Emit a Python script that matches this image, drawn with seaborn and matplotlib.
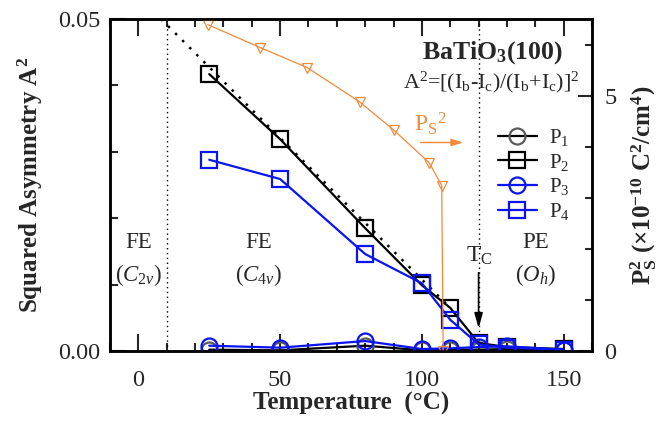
import matplotlib
matplotlib.use("Agg")
import matplotlib.pyplot as plt
import seaborn as sns
import numpy as np
import pandas as pd
from matplotlib.lines import Line2D
from matplotlib.ticker import MultipleLocator, FixedLocator

# ---------------- data ----------------
temps = [25, 50, 80, 100, 110, 120, 130, 150]
p1 = [0.0002, 0.0001, 0.0008, 0.0001, 0.0002, 0.0002, 0.0003, 0.0001]
p2 = [0.0417, 0.0319, 0.0185, 0.0099, 0.0065, 0.0012, 0.0006, 0.0003]
p3 = [0.0008, 0.0005, 0.0015, 0.0003, 0.0004, 0.0006, 0.0007, 0.0002]
p4 = [0.0288, 0.0259, 0.0146, 0.0102, 0.0047, 0.0010, 0.0005, 0.0002]

ps_temps = [24.5, 43, 59.5, 78, 90, 102.5, 107, 107.5]
ps2 = [6.39, 5.94, 5.55, 4.88, 4.33, 3.69, 3.24, 0.0]

fit_temps = [8, 110]
fit_a2 = [0.05, 0.0065]

phase_bounds = [10, 120]

# ---------------- style ----------------
sns.set_style("ticks")
plt.rcParams["font.family"] = ["Liberation Serif", "DejaVu Serif"]
plt.rcParams["mathtext.fontset"] = "custom"
plt.rcParams["mathtext.rm"] = "Liberation Serif"
plt.rcParams["mathtext.it"] = "Liberation Serif:italic"
plt.rcParams["mathtext.bf"] = "Liberation Serif:bold"

fig = plt.figure(figsize=(6.69, 4.24), dpi=100)
ax = fig.add_axes([110 / 669, 1 - 351 / 424, 482 / 669, 332 / 424])
ax2 = ax.twinx()

ORANGE = "#f28a3a"
BLUE = "#0a14f0"
GRAY = "#5a5a5a"
ms = 11.5
mew = 1.6
lw = 1.6

df = pd.DataFrame({"T": temps, "P1": p1, "P2": p2, "P3": p3, "P4": p4})

sns.lineplot(x=fit_temps, y=fit_a2, ax=ax, color="black", linestyle=(0, (1, 3)),
             lw=1.8, zorder=2)
sns.lineplot(data=df, x="T", y="P1", ax=ax, color="black", lw=lw, marker="o",
             markersize=ms, markerfacecolor="none", markeredgecolor=GRAY,
             markeredgewidth=mew, zorder=3)
sns.lineplot(data=df, x="T", y="P2", ax=ax, color="black", lw=lw, marker="s",
             markersize=ms, markerfacecolor="none", markeredgecolor="black",
             markeredgewidth=mew, zorder=3)
sns.lineplot(data=df, x="T", y="P3", ax=ax, color=BLUE, lw=lw, marker="o",
             markersize=ms, markerfacecolor="none", markeredgecolor=BLUE,
             markeredgewidth=mew, zorder=4)
sns.lineplot(data=df, x="T", y="P4", ax=ax, color=BLUE, lw=lw, marker="s",
             markersize=ms, markerfacecolor="none", markeredgecolor=BLUE,
             markeredgewidth=mew, zorder=4)

sns.lineplot(x=ps_temps, y=ps2, ax=ax2, color=ORANGE, lw=0.9, marker="v",
             markersize=7, markerfacecolor="none", markeredgecolor=ORANGE,
             markeredgewidth=0.9, sort=False)

for xb in phase_bounds:
    ax.axvline(xb, color="black", lw=1.0, linestyle=(0, (1, 2.5)), zorder=1)

# ---------------- axes ----------------
ax.set_xlim(-10, 160)
ax.set_ylim(0, 0.05)
ax2.set_ylim(0, 6.5)

ax.xaxis.set_major_locator(FixedLocator([0, 50, 100, 150]))
ax.xaxis.set_minor_locator(MultipleLocator(10))
ax.yaxis.set_major_locator(FixedLocator([0, 0.05]))
ax.yaxis.set_minor_locator(MultipleLocator(0.01))
ax.set_yticklabels(["0.00", "0.05"])
ax2.yaxis.set_major_locator(FixedLocator([0, 5]))
ax2.yaxis.set_minor_locator(MultipleLocator(1))

TL = 17.5
ax.tick_params(axis="x", which="both", direction="in", top=True, bottom=True,
               labelsize=TL, pad=14, width=1.5)
ax.tick_params(axis="x", which="major", length=12)
ax.tick_params(axis="x", which="minor", length=6)
ax.tick_params(axis="y", which="both", direction="in", left=True, right=False,
               labelsize=TL, pad=7, width=1.5)
ax.tick_params(axis="y", which="major", length=12)
ax.tick_params(axis="y", which="minor", length=6)
ax2.tick_params(axis="y", which="both", direction="in", right=True, left=False,
                labelsize=TL, pad=9, width=1.5)
ax2.tick_params(axis="y", which="major", length=10)
ax2.tick_params(axis="y", which="minor", length=5)

for a in (ax, ax2):
    for s in a.spines.values():
        s.set_linewidth(1.8)
        s.set_color("black")

ax.set_xlabel("Temperature  (°C)", fontsize=18, fontweight="bold", labelpad=0)
ax.set_ylabel("Squared Asymmetry A$^{\\mathbf{2}}$", fontsize=18, fontweight="bold",
              labelpad=9)
ax2.set_ylabel("P$_{\\mathbf{S}}^{\\mathbf{2}}$ (×10$^{\\mathbf{-10}}$ C$^{\\mathbf{2}}$/cm$^{\\mathbf{4}}$)",
               fontsize=18, fontweight="bold", labelpad=8)

# ---------------- annotations ----------------
fs = 16.5
ax.text(0, 0.0163, "FE", ha="center", va="center", fontsize=fs)
ax.text(0, 0.0114, "($\\mathit{C}_{\\mathit{2v}}$)", ha="center", va="center", fontsize=fs)
ax.text(42.5, 0.0163, "FE", ha="center", va="center", fontsize=fs)
ax.text(42.5, 0.0114, "($\\mathit{C}_{\\mathit{4v}}$)", ha="center", va="center", fontsize=fs)
ax.text(140, 0.0163, "PE", ha="center", va="center", fontsize=fs)
ax.text(140, 0.0114, "($\\mathit{O}_{\\mathit{h}}$)", ha="center", va="center", fontsize=fs)
ax.text(120.3, 0.0143, "T$_{\\mathrm{C}}$", ha="center", va="center", fontsize=17)
ax.annotate("", xy=(120, 0.0030), xytext=(120, 0.0122),
            arrowprops=dict(arrowstyle="-|>,head_length=0.9,head_width=0.25",
                            color="black", lw=1.2))

ax.text(149.8, 0.0449, "BaTiO$_{\\mathbf{3}}$(100)", ha="right", va="center",
        fontsize=18.5, fontweight="bold")
ax.text(155.5, 0.0404, "A$^2$=[(I$_\\mathrm{b}$-I$_\\mathrm{c}$)/(I$_\\mathrm{b}$+I$_\\mathrm{c}$)]$^2$",
        ha="right", va="center", fontsize=15.8)

ax.text(103, 0.0342, "P$_\\mathrm{S}$$^2$", ha="center", va="center", fontsize=17,
        color=ORANGE)
ax.annotate("", xy=(115.5, 0.0314), xytext=(98.5, 0.0314),
            arrowprops=dict(arrowstyle="-|>,head_length=0.7,head_width=0.22",
                            color=ORANGE, lw=1.0))

# ---------------- legend ----------------
handles = [
    Line2D([], [], color="black", lw=lw, marker="o", markersize=ms,
           markerfacecolor="none", markeredgecolor=GRAY, markeredgewidth=mew),
    Line2D([], [], color="black", lw=lw, marker="s", markersize=ms,
           markerfacecolor="none", markeredgecolor="black", markeredgewidth=mew),
    Line2D([], [], color=BLUE, lw=lw, marker="o", markersize=ms,
           markerfacecolor="none", markeredgecolor=BLUE, markeredgewidth=mew),
    Line2D([], [], color=BLUE, lw=lw, marker="s", markersize=ms,
           markerfacecolor="none", markeredgecolor=BLUE, markeredgewidth=mew),
]
labels = ["P$_1$", "P$_2$", "P$_3$", "P$_4$"]
if ax.get_legend() is not None:
    ax.get_legend().remove()
if ax2.get_legend() is not None:
    ax2.get_legend().remove()
leg = ax2.legend(handles, labels, loc="upper left", bbox_to_anchor=(0.805, 0.675),
                 frameon=False, fontsize=15, handlelength=1.85, handletextpad=0.6,
                 labelspacing=0.18, borderpad=0, borderaxespad=0)

fig.savefig("out.png", dpi=100)
